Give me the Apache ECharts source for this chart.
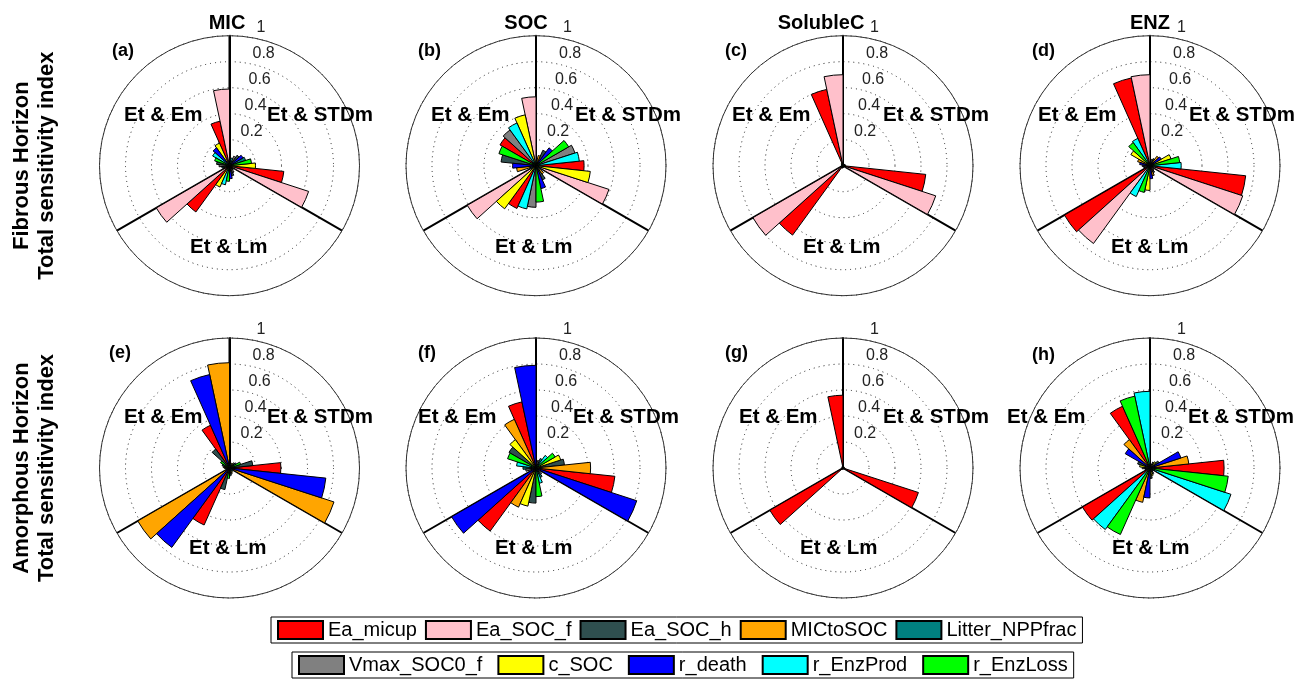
<!DOCTYPE html>
<html><head><meta charset="utf-8">
<script src="https://cdn.jsdelivr.net/npm/echarts@6/dist/echarts.min.js"></script>
<style>html,body{margin:0;padding:0;background:#fff}#c{width:1307px;height:690px}</style>
</head><body><div id="c"></div>
<script>
// ---------- DATA ----------
const params = ['Ea_micup','Ea_SOC_f','Ea_SOC_h','MICtoSOC','Litter_NPPfrac','Vmax_SOC0_f','c_SOC','r_death','r_EnzProd','r_EnzLoss'];
const sectorNames = ['Et & Em','Et & Lm','Et & STDm'];
const columnTitles = ['MIC','SOC','SolubleC','ENZ'];
const rowTitles = [['Fibrous Horizon','Total sensitivity index'],['Amorphous Horizon','Total sensitivity index']];
const panelLetters = ['(a)','(b)','(c)','(d)','(e)','(f)','(g)','(h)'];
const radialTicks = [0.2,0.4,0.6,0.8,1];

// values in parameter order: Ea_micup, Ea_SOC_f, Ea_SOC_h, MICtoSOC, Litter_NPPfrac, Vmax_SOC0_f, c_SOC, r_death, r_EnzProd, r_EnzLoss
// Fibrous horizon
const a_Em   = [0.35, 0.59, 0.10, 0.04, 0.06, 0.08, 0.19, 0.17, 0.15, 0.12];
const a_Lm   = [0.44, 0.65, 0.08, 0.03, 0.04, 0.06, 0.18, 0.10, 0.15, 0.12];
const a_STDm = [0.42, 0.64, 0.10, 0.04, 0.13, 0.08, 0.20, 0.12, 0.06, 0.17];
const b_Em   = [0.32, 0.53, 0.27, 0.15, 0.05, 0.34, 0.40, 0.18, 0.36, 0.30];
const b_Lm   = [0.36, 0.61, 0.12, 0.08, 0.04, 0.32, 0.41, 0.18, 0.34, 0.28];
const b_STDm = [0.37, 0.59, 0.13, 0.08, 0.04, 0.315, 0.42, 0.17, 0.335, 0.29];
const c_Em   = [0.60, 0.70, 0.02, 0.015, 0.01, 0.01, 0.02, 0.015, 0.01, 0.01];
const c_Lm   = [0.66, 0.80, 0.02, 0.015, 0.01, 0.01, 0.02, 0.015, 0.01, 0.01];
const c_STDm = [0.64, 0.75, 0.02, 0.015, 0.01, 0.01, 0.02, 0.015, 0.01, 0.01];
const d_Em   = [0.69, 0.70, 0.06, 0.10, 0.03, 0.05, 0.17, 0.08, 0.23, 0.22];
const d_Lm   = [0.76, 0.74, 0.06, 0.08, 0.03, 0.04, 0.19, 0.10, 0.26, 0.21];
const d_STDm = [0.74, 0.75, 0.06, 0.09, 0.03, 0.05, 0.17, 0.10, 0.24, 0.23];
// Amorphous horizon
const e_Em   = [0.36, 0.02, 0.18, 0.81, 0.06, 0.05, 0.04, 0.735, 0.03, 0.08];
const e_Lm   = [0.48, 0.02, 0.17, 0.815, 0.06, 0.05, 0.04, 0.755, 0.03, 0.08];
const e_STDm = [0.395, 0.02, 0.18, 0.845, 0.06, 0.05, 0.04, 0.745, 0.03, 0.09];
const f_Em   = [0.52, 0.05, 0.24, 0.41, 0.10, 0.08, 0.27, 0.79, 0.15, 0.23];
const f_Lm   = [0.60, 0.04, 0.27, 0.33, 0.08, 0.06, 0.30, 0.75, 0.12, 0.22];
const f_STDm = [0.61, 0.04, 0.22, 0.42, 0.08, 0.06, 0.20, 0.815, 0.12, 0.17];
const g_Em   = [0.56, 0.01, 0.01, 0.01, 0.005, 0.005, 0.01, 0.01, 0.005, 0.005];
const g_Lm   = [0.65, 0.01, 0.01, 0.01, 0.005, 0.005, 0.01, 0.01, 0.005, 0.005];
const g_STDm = [0.61, 0.01, 0.01, 0.01, 0.005, 0.005, 0.01, 0.01, 0.005, 0.005];
const h_Em   = [0.52, 0.02, 0.10, 0.27, 0.04, 0.06, 0.08, 0.22, 0.59, 0.565];
const h_Lm   = [0.60, 0.02, 0.08, 0.27, 0.03, 0.05, 0.06, 0.23, 0.585, 0.56];
const h_STDm = [0.57, 0.02, 0.08, 0.30, 0.03, 0.05, 0.06, 0.25, 0.655, 0.605];

const panels = [
  [a_Em, a_Lm, a_STDm], [b_Em, b_Lm, b_STDm], [c_Em, c_Lm, c_STDm], [d_Em, d_Lm, d_STDm],
  [e_Em, e_Lm, e_STDm], [f_Em, f_Lm, f_STDm], [g_Em, g_Lm, g_STDm], [h_Em, h_Lm, h_STDm]
];

// ---------- STYLE / LAYOUT ----------
const colors = ['#FF0000','#FFC0CB','#2F4F4F','#FFA500','#008080','#808080','#FFFF00','#0000FF','#00FFFF','#00FF00'];
const FONT = '"Liberation Sans", Arial, Helvetica, sans-serif';
const R = 130;
const colX = [229.5, 536, 843, 1150];
const rowY = [165.7, 468];
const titleX = [227, 526, 821, 1150];
// sector label positions [Em, Lm, STDm] as [left x, middle y]
const secPos = [
  [[124,115],[190,247],[267,115]], [[431,115],[495,247],[575,115]],
  [[732,115],[803,247],[883,115]], [[1038,115],[1111,247],[1189,115]],
  [[124,417],[189,548],[267,417]], [[418,417],[495,548],[573,417]],
  [[739,417],[800,548],[883,417]], [[1007,417],[1112,548],[1188,417]]
];
const letterPos = [[112,51],[418,51],[725,51],[1032,51],[109,353],[418,353],[725,353],[1032,355]];

const slots = Array.from({length: 30}, (_, i) => 's' + i);

const polar = [], angleAxis = [], radiusAxis = [], series = [];
const rich = {};
radialTicks.forEach((t) => {
  rich['t' + Math.round(t * 5)] = {padding: [0, 0, 0, Math.round(19.6 * t)], fontSize: 16, color: '#222', fontFamily: FONT};
});

panels.forEach((sec, p) => {
  const cx = colX[p % 4], cy = rowY[Math.floor(p / 4)];
  polar.push({center: [cx, cy], radius: R});
  angleAxis.push({
    polarIndex: p, type: 'category', data: slots, startAngle: 90, clockwise: false, boundaryGap: true,
    axisLine: {show: true, lineStyle: {color: '#333', width: 1}},
    axisTick: {show: false, interval: 9},
    axisLabel: {show: false},
    splitLine: {show: true, lineStyle: {color: '#000', width: 2}}
  });
  radiusAxis.push({
    polarIndex: p, type: 'value', min: 0, max: 1, interval: 0.2,
    axisLine: {show: true, lineStyle: {color: '#000', width: 2}},
    axisTick: {show: false},
    axisLabel: {
      show: true, margin: -7, align: 'left', verticalAlign: 'bottom', showMinLabel: false,
      formatter: (v) => v === 0 ? '' : '{t' + Math.round(v * 5) + '|' + (+v.toFixed(1)) + '}',
      rich: rich
    },
    splitLine: {show: true, lineStyle: {color: '#222', width: 1, type: [1, 4]}}
  });
  // rank each parameter within each sector (descending), position counter-clockwise from sector start
  const slotOf = sec.map((vals) => {
    const order = vals.map((v, j) => j).sort((i, j) => vals[j] - vals[i]);
    const rank = [];
    order.forEach((j, k) => { rank[j] = k; });
    return rank;
  });
  params.forEach((name, j) => {
    const data = new Array(30).fill(null);
    sec.forEach((vals, s) => { data[s * 10 + slotOf[s][j]] = vals[j]; });
    series.push({
      type: 'bar', coordinateSystem: 'polar', polarIndex: p, name: name, data: data,
      barGap: '-100%', barCategoryGap: '0%', silent: true,
      itemStyle: {color: colors[j], borderColor: '#000', borderWidth: 1}
    });
  });
});

const graphic = [];
columnTitles.forEach((t, i) => {
  graphic.push({type: 'text', x: titleX[i], y: 23, z: 100,
    style: {text: t, font: 'bold 20px ' + FONT, fill: '#000', align: 'center', verticalAlign: 'middle', textAlign: 'center', textVerticalAlign: 'middle'}});
});
rowTitles.forEach((lines, r) => {
  lines.forEach((t, k) => {
    graphic.push({type: 'text', x: k === 0 ? 22 : 47, y: rowY[r], rotation: Math.PI / 2, z: 100,
      style: {text: t, font: 'bold 22px ' + FONT, fill: '#000', align: 'center', verticalAlign: 'middle', textAlign: 'center', textVerticalAlign: 'middle'}});
  });
});
panelLetters.forEach((t, p) => {
  graphic.push({type: 'text', x: letterPos[p][0], y: letterPos[p][1], z: 100,
    style: {text: t, font: 'bold 18px ' + FONT, fill: '#000', align: 'left', verticalAlign: 'middle', textAlign: 'left', textVerticalAlign: 'middle'}});
  sectorNames.forEach((sname, s) => {
    graphic.push({type: 'text', x: secPos[p][s][0], y: secPos[p][s][1], z: 100,
      style: {text: sname, font: 'bold 20.5px ' + FONT, fill: '#000', align: 'left', verticalAlign: 'middle', textAlign: 'left', textVerticalAlign: 'middle'}});
  });
});

const legendBase = {
  orient: 'horizontal', itemWidth: 45, itemHeight: 18, icon: 'rect', selectedMode: false,
  textStyle: {fontSize: 20, color: '#000', fontFamily: FONT},
  borderColor: '#000', borderWidth: 1, padding: [3, 6, 3, 6], backgroundColor: '#fff'
};

const chart = echarts.init(document.getElementById('c'), null, {renderer: 'canvas'});
chart.setOption({
  animation: false,
  backgroundColor: '#fff',
  polar, angleAxis, radiusAxis, series, graphic,
  legend: [
    Object.assign({}, legendBase, {data: params.slice(0, 5), left: 271, top: 617, itemGap: 8}),
    Object.assign({}, legendBase, {data: params.slice(5), left: 292, top: 652, itemGap: 15})
  ]
});
</script></body></html>
